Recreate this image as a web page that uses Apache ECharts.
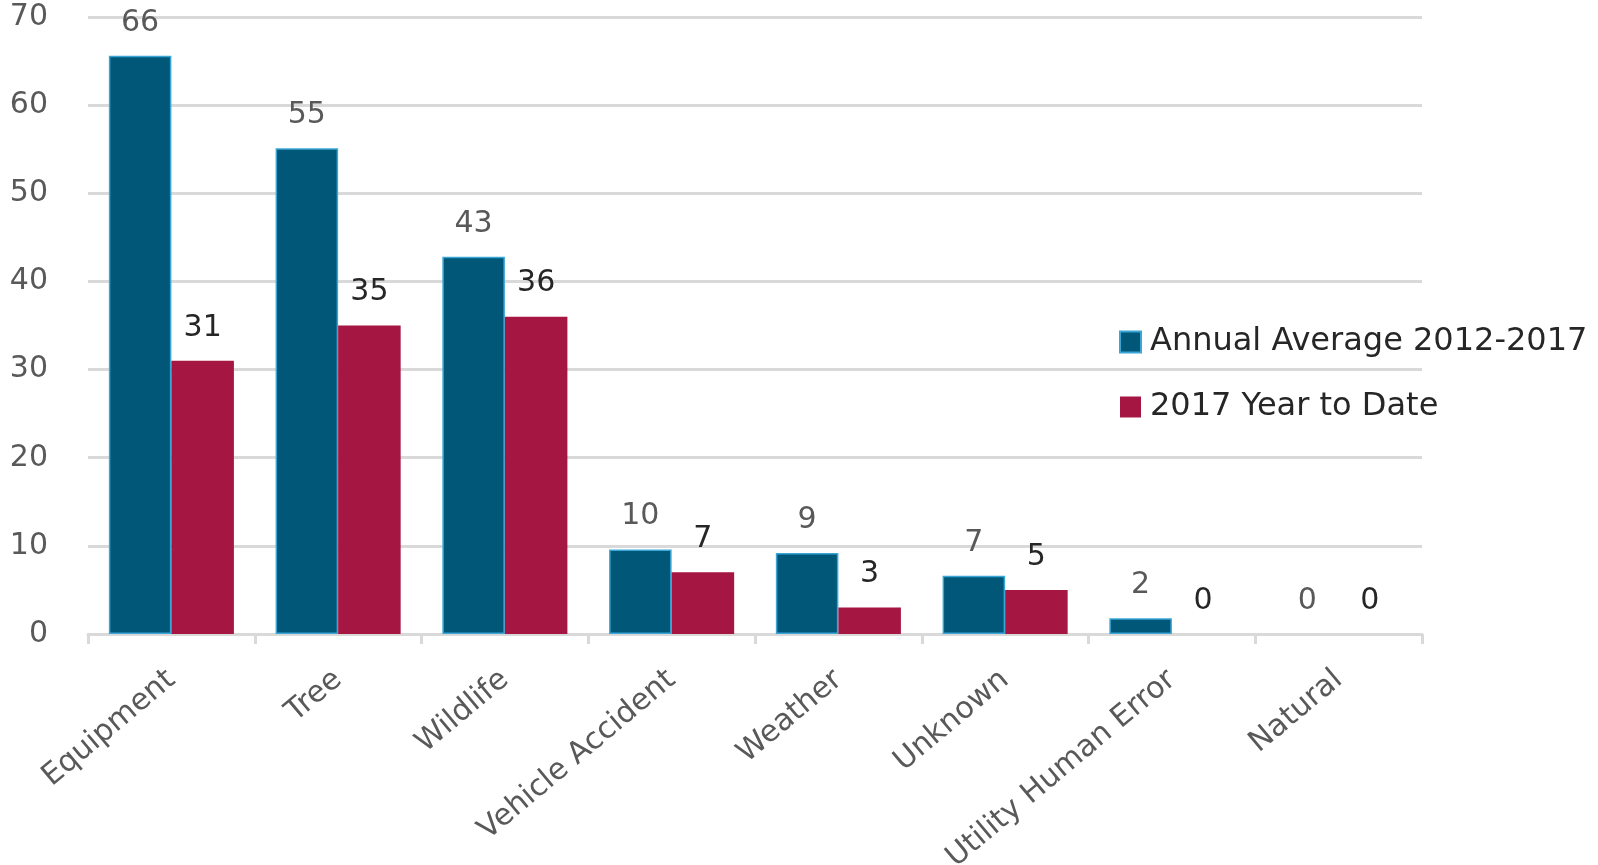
<!DOCTYPE html>
<html>
<head>
<meta charset="utf-8">
<script src="https://cdn.jsdelivr.net/npm/echarts@6/dist/echarts.min.js"></script>
<style>
  html, body { margin: 0; padding: 0; background: #fff; }
  #chart { width: 1598px; height: 865px; }
</style>
</head>
<body>
<div id="chart"></div>
<script>
// categories and values
const categories = ['Equipment', 'Tree', 'Wildlife', 'Vehicle Accident', 'Weather', 'Unknown', 'Utility Human Error', 'Natural'];
const annualAverage = [65.6, 55.1, 42.8, 9.6, 9.2, 6.6, 1.8, 0];
const yearToDate = [31, 35, 36, 7, 3, 5, 0, 0];
const yTicks = [0, 10, 20, 30, 40, 50, 60, 70];

const FONT = 'DejaVu Sans';

const myChart = echarts.init(document.getElementById('chart'));

// no outline on empty bars
const avgData = annualAverage.map(v => (v === 0 ? { value: v, itemStyle: { borderWidth: 0 } } : v));

const option = {
  animation: false,
  textStyle: { fontFamily: FONT },
  grid: {
    left: 88,
    right: 176,
    top: 17,
    bottom: 231,
    outerBoundsMode: 'none'
  },
  legend: {
    orient: 'vertical',
    left: 1114,
    top: 321,
    itemWidth: 21,
    itemHeight: 21,
    itemGap: 33,
    icon: 'rect',
    textStyle: { fontSize: 32, color: '#262626', fontFamily: FONT, padding: [0, 0, 0, 4] }
  },
  xAxis: {
    type: 'category',
    data: categories,
    axisLine: { lineStyle: { color: '#d9d9d9', width: 3 } },
    axisTick: { show: true, length: 10, lineStyle: { color: '#d9d9d9', width: 3 } },
    axisLabel: { rotate: 40, margin: 42, fontSize: 30, color: '#595959' }
  },
  yAxis: {
    type: 'value',
    min: yTicks[0],
    max: yTicks[yTicks.length - 1],
    interval: 10,
    axisLine: { show: false },
    axisTick: { show: false },
    axisLabel: { fontSize: 30, color: '#595959', margin: 40 },
    splitLine: { lineStyle: { color: '#d9d9d9', width: 3 } }
  },
  series: [
    {
      name: 'Annual Average 2012-2017',
      type: 'bar',
      data: avgData,
      barGap: '0%',
      barCategoryGap: '25%',
      itemStyle: { color: '#005778', borderColor: '#3aa6d6', borderWidth: 1.5 },
      label: {
        show: true,
        position: 'top',
        distance: 18,
        fontSize: 30,
        color: '#595959',
        formatter: p => Math.round(p.value)
      }
    },
    {
      name: '2017 Year to Date',
      type: 'bar',
      data: yearToDate,
      itemStyle: { color: '#a61642' },
      label: {
        show: true,
        position: 'top',
        distance: 18,
        fontSize: 30,
        color: '#262626'
      }
    }
  ]
};

option && myChart.setOption(option);
</script>
</body>
</html>
